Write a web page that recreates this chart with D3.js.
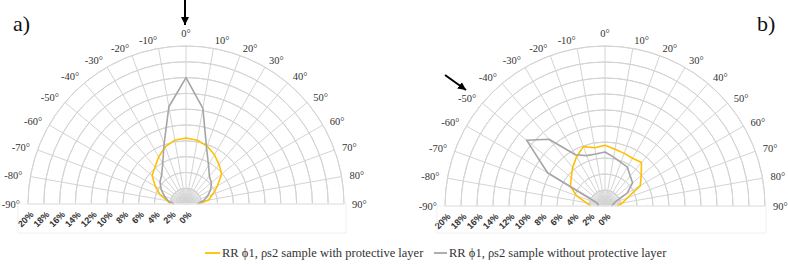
<!DOCTYPE html>
<html><head><meta charset="utf-8">
<script src="https://cdn.jsdelivr.net/npm/d3@7"></script>
<style>body{margin:0;background:#fff}svg{display:block}
.serif{font-family:"Liberation Serif","Times New Roman",Tinos,"DejaVu Serif",serif}
.sans{font-family:"Liberation Sans",Arial,sans-serif}
</style>
</head><body><svg id="c" width="788" height="265"></svg>
<script>
// ---- data ----
const angles = [-90,-80,-70,-60,-50,-40,-30,-20,-10,0,10,20,30,40,50,60,70,80,90];
const angleLabels = angles.map(a => a + "°");
const radialTicks = [0,2,4,6,8,10,12,14,16,18,20];
const radialTickLabels = radialTicks.map(t => t + "%");
const seriesNames = ["RR \u03d51, \u03c1s2 sample with protective layer", "RR \u03d51, \u03c1s2 sample without protective layer"];
const seriesColors = ["#FFC000", "#A5A5A5"];
// panel a)
const aWith    = [2.0,2.4,3.5,4.5,5.6,6.1,6.9,7.7,8.2,8.35,8.2,7.8,7.2,6.5,5.9,4.6,3.6,2.9,1.6];
const aWithout = [1.5,2.3,2.9,3.6,4.3,4.8,5.9,8.1,12.5,16.0,12.3,7.6,5.7,4.6,4.2,3.6,2.9,2.2,1.4];
// panel b)
const bWith    = [1.8,2.4,3.8,5.0,5.5,6.3,7.1,7.9,7.4,7.6,7.2,7.0,6.9,7.1,5.9,5.1,3.0,2.2,1.5];
const bWithout = [0.8,0.9,1.0,8.3,12.8,10.9,7.4,6.7,6.6,6.75,6.2,5.8,5.6,4.9,4.5,3.2,1.3,1.0,0.8];

const svg = d3.select("#c");

function panel(cx, cy, R, withVals, withoutVals) {
  const g = svg.append("g").attr("transform", `translate(${cx},${cy})`);
  const r = d3.scaleLinear().domain([0, 20]).range([0, R]);
  const ang = d3.scaleLinear().domain([-90, 90]).range([-Math.PI/2, Math.PI/2]);
  const grid = "#d4d4d4";
  const arc = d3.arc().startAngle(-Math.PI/2).endAngle(Math.PI/2);
  radialTicks.filter(t => t > 0).forEach(t => {
    g.append("path").attr("d", arc({innerRadius: r(t), outerRadius: r(t)}))
      .attr("fill", "none").attr("stroke", grid).attr("stroke-width", 1);
  });
  // inner fan
  d3.range(-90, 90.1, 5).forEach(a => {
    if (a % 10 === 0) return;
    const t = ang(a);
    g.append("line").attr("x1", 0).attr("y1", 0)
      .attr("x2", r(2) * Math.sin(t)).attr("y2", -r(2) * Math.cos(t))
      .attr("stroke", "#c8c8c8").attr("stroke-width", 0.8);
  });
  // spokes
  angles.forEach(a => {
    const t = ang(a);
    g.append("line").attr("x1", 0).attr("y1", 0)
      .attr("x2", R * Math.sin(t)).attr("y2", -R * Math.cos(t))
      .attr("stroke", grid).attr("stroke-width", 1);
  });
  // angle labels
  angles.forEach((a, i) => {
    const t = ang(a);
    const gap = 8;
    let x = (R + gap) * Math.sin(t);
    let y = -(R + gap) * Math.cos(t);
    if (a === 0) y = -R - 13;
    g.append("text").attr("class", "serif").attr("x", x).attr("y", y)
      .attr("text-anchor", a < 0 ? "end" : (a > 0 ? "start" : "middle"))
      .attr("dominant-baseline", "central")
      .attr("font-size", 10.5).attr("fill", "#333")
      .text(angleLabels[i]);
  });
  // radial tick labels (left)
  radialTicks.forEach((tk, i) => {
    const x = -r(tk);
    g.append("text").attr("class", "sans").attr("transform", `translate(${x + 4},${9}) rotate(-45)`)
      .attr("text-anchor", "end").attr("dominant-baseline", "central")
      .attr("font-weight", "bold")
      .attr("font-size", 9).attr("fill", "#333")
      .text(radialTickLabels[i]);
  });
  // series
  const line = d3.lineRadial().angle((d, i) => ang(angles[i])).radius(d => r(d));
  [withVals, withoutVals].forEach((vals, k) => {
    g.append("path").attr("d", line(vals)).attr("fill", "none")
      .attr("stroke", seriesColors[k]).attr("stroke-width", 1.6)
      .attr("stroke-linejoin", "round");
  });
}

panel(186, 204, 158, aWith, aWithout);
panel(605, 206, 160, bWith, bWithout);

// faint frames
svg.append("rect").attr("x", 18).attr("y", 204).attr("width", 328).attr("height", 29)
  .attr("fill", "none").attr("stroke", "#f0f0f0");
svg.append("rect").attr("x", 437).attr("y", 206).attr("width", 329).attr("height", 27)
  .attr("fill", "none").attr("stroke", "#f0f0f0");

// panel letters
svg.append("text").attr("class", "serif").attr("x", 13).attr("y", 31).attr("font-size", 22).attr("fill", "#111").text("a)");
svg.append("text").attr("class", "serif").attr("x", 757).attr("y", 31).attr("font-size", 22).attr("fill", "#111").text("b)");

// arrows
const defs = svg.append("defs");
defs.append("marker").attr("id", "ah").attr("viewBox", "0 0 10 10").attr("refX", 10).attr("refY", 5)
  .attr("markerWidth", 4).attr("markerHeight", 4).attr("orient", "auto").attr("markerUnits", "strokeWidth")
  .append("path").attr("d", "M0,0 L10,5 L0,10 z").attr("fill", "#000");
svg.append("line").attr("x1", 185).attr("y1", 0).attr("x2", 185).attr("y2", 25)
  .attr("stroke", "#000").attr("stroke-width", 2).attr("marker-end", "url(#ah)");
svg.append("line").attr("x1", 445).attr("y1", 75).attr("x2", 466).attr("y2", 90)
  .attr("stroke", "#000").attr("stroke-width", 2).attr("marker-end", "url(#ah)");

// legend
const leg = svg.append("g");
const legItems = [{x: 205, tx: 222}, {x: 434, tx: 449}];
legItems.forEach((it, k) => {
  leg.append("line").attr("x1", it.x).attr("x2", it.tx - 2).attr("y1", 253).attr("y2", 253)
    .attr("stroke", seriesColors[k]).attr("stroke-width", 1.8);
  leg.append("text").attr("class", "serif").attr("x", it.tx).attr("y", 253).attr("dominant-baseline", "central")
    .attr("font-size", 12.5).attr("fill", "#333").text(seriesNames[k]);
});
</script></body></html>
